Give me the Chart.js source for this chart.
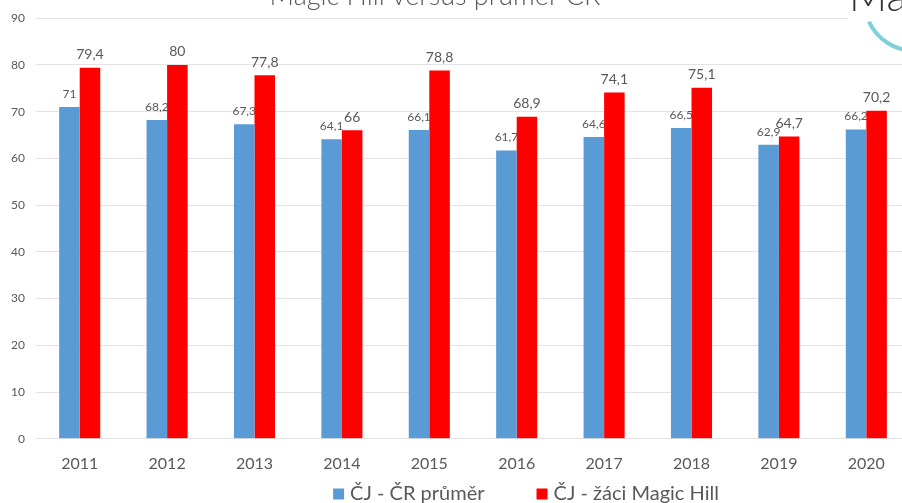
<!DOCTYPE html>
<html><head><meta charset="utf-8">
<script src="https://cdn.jsdelivr.net/npm/chart.js@4.4.0/dist/chart.umd.min.js"></script>
<style>
html,body{margin:0;padding:0;background:#fff;overflow:hidden;width:902px;height:503px;}
#wrap{position:absolute;left:0;top:0;width:910px;height:503px;}
</style></head><body>
<div id="wrap"><canvas id="c" width="910" height="503"></canvas></div>
<script>
const years = ['2011','2012','2013','2014','2015','2016','2017','2018','2019','2020'];
const prumerCR = [71, 68.2, 67.3, 64.1, 66.1, 61.7, 64.6, 66.5, 62.9, 66.2];
const magicHill = [79.4, 80, 77.8, 66, 78.8, 68.9, 74.1, 75.1, 64.7, 70.2];
const seriesNames = ['ČJ - ČR průměr', 'ČJ - žáci Magic Hill'];
const seriesColors = ['#5B9BD5', '#FF0000'];
const chartTitle = 'Magic Hill versus průměr ČR';
const logoText = 'Magic Hill';
const FONT = 'Lato, "Open Sans", sans-serif';

const fmt = v => String(v).replace('.', ',');

function drawLabels(chart, idx, size, color) {
  const ctx = chart.ctx;
  const meta = chart.getDatasetMeta(idx);
  ctx.save();
  ctx.font = size + 'px ' + FONT;
  ctx.fillStyle = color;
  ctx.textAlign = 'center';
  ctx.textBaseline = 'middle';
  meta.data.forEach((bar, i) => {
    ctx.fillText(fmt(chart.data.datasets[idx].data[i]), bar.x, bar.y - 13);
  });
  ctx.restore();
}

const decor = {
  id: 'decor',
  beforeDatasetsDraw(chart) {
    drawLabels(chart, 0, 12, '#595959');
  },
  afterDatasetsDraw(chart) {
    drawLabels(chart, 1, 14, '#595959');
  },
  afterDraw(chart) {
    const ctx = chart.ctx;
    ctx.save();
    // title (cropped at top)
    ctx.font = '300 27px ' + FONT;
    ctx.fillStyle = '#595959';
    ctx.textAlign = 'center';
    ctx.textBaseline = 'alphabetic';
    ctx.fillText(chartTitle, 435, 5);
    // legend
    ctx.font = '20px ' + FONT;
    ctx.textBaseline = 'middle';
    ctx.textAlign = 'left';
    const box = 11, gap = 6, spacing = 52;
    const widths = seriesNames.map(n => ctx.measureText(n).width);
    const total = widths.reduce((a, w) => a + box + gap + w, 0) + spacing;
    let x = 526 - total / 2;
    const y = 494;
    seriesNames.forEach((n, i) => {
      ctx.fillStyle = seriesColors[i];
      ctx.fillRect(x, y - box / 2, box, box);
      ctx.fillStyle = '#595959';
      ctx.fillText(n, x + box + gap, y);
      x += box + gap + widths[i] + spacing;
    });
    // logo (cropped)
    ctx.fillStyle = '#ffffff';
    ctx.fillRect(848, 0, 62, 56);
    ctx.strokeStyle = '#7FD1D9';
    ctx.lineWidth = 4;
    ctx.beginPath();
    ctx.arc(915, 0, 51, Math.PI * 0.5, Math.PI * 0.86);
    ctx.stroke();
    ctx.font = '300 42px ' + FONT;
    ctx.fillStyle = '#333333';
    ctx.textBaseline = 'alphabetic';
    ctx.fillText(logoText, 849, 11);
    ctx.restore();
  }
};

new Chart(document.getElementById('c'), {
  type: 'bar',
  data: {
    labels: years,
    datasets: [
      { label: seriesNames[0], data: prumerCR, backgroundColor: seriesColors[0], categoryPercentage: 0.47, barPercentage: 1 },
      { label: seriesNames[1], data: magicHill, backgroundColor: seriesColors[1], categoryPercentage: 0.47, barPercentage: 1 }
    ]
  },
  options: {
    responsive: false,
    animation: false,
    devicePixelRatio: 1,
    layout: { padding: { top: 17, bottom: 23, left: 0, right: 0 } },
    plugins: { legend: { display: false }, title: { display: false }, tooltip: { enabled: false } },
    scales: {
      x: {
        grid: { display: false },
        border: { display: false },
        ticks: { color: '#595959', font: { family: FONT, size: 16 }, padding: 7 }
      },
      y: {
        min: 0, max: 90,
        afterFit(scale) { scale.width = 36; },
        grid: { color: '#e3e3e3', lineWidth: 1, drawTicks: false },
        border: { display: false },
        ticks: { stepSize: 10, color: '#595959', font: { family: FONT, size: 12 }, padding: 11 }
      }
    }
  },
  plugins: [decor]
});
</script>
</body></html>
